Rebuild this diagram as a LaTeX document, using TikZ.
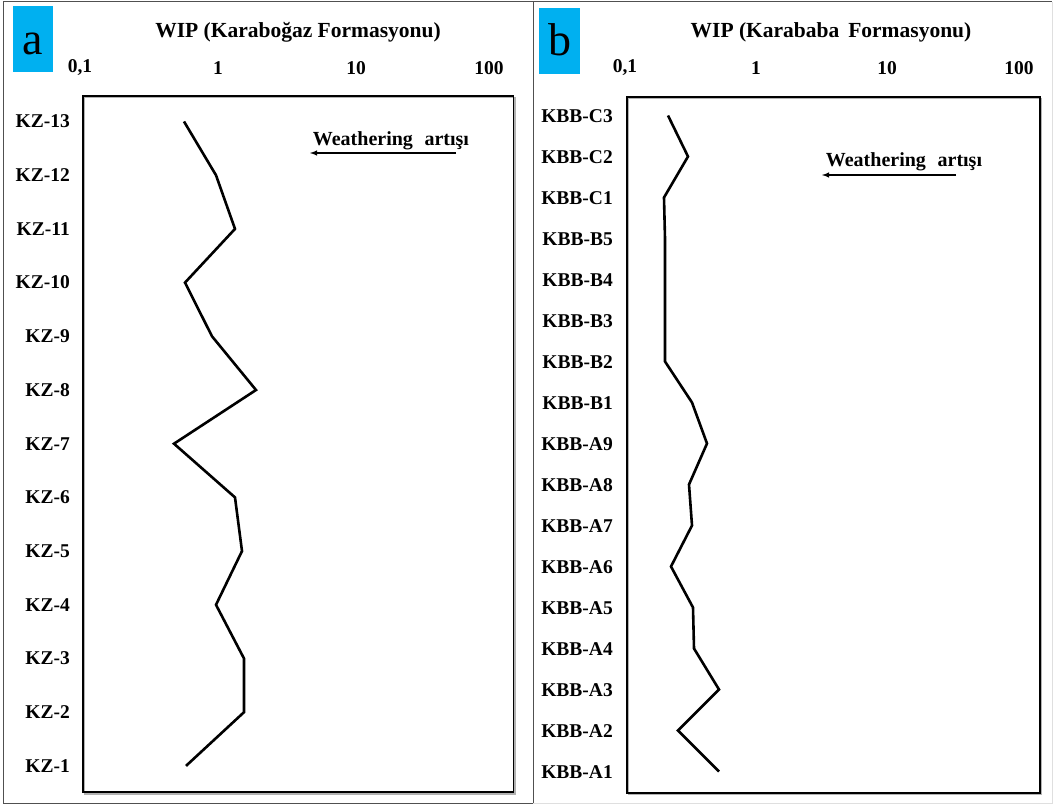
\documentclass[tikz,border=0pt]{standalone}
\usepackage{fontspec}
\setmainfont{Liberation Serif}
\usetikzlibrary{calc,positioning,arrows}
\definecolor{panelblue}{RGB}{0,176,240}
\definecolor{framegray}{RGB}{80,80,80}

\begin{document}
\begin{tikzpicture}[
	%	style def
    x=1pt, y=-1pt,
    data line/.style={line width=2.6pt, line join=miter},
    plot box/.style={draw=black, line width=1.4pt},
    box shadow/.style={draw=gray!60, line width=1.4pt},
    panel frame/.style={draw=framegray, line width=1pt},
    trend arrow/.style={line width=1.4pt, -latex},
    sample/.style={font=\bfseries\fontsize{19.5}{22}\selectfont, anchor=east, inner sep=0pt},
    tick/.style={font=\bfseries\fontsize{19.5}{22}\selectfont, inner sep=0pt},
    note/.style={font=\bfseries\fontsize{20}{22}\selectfont, inner sep=0pt},
    heading/.style={font=\bfseries\fontsize{21.5}{24}\selectfont, inner sep=0pt},
    tag/.style={fill=panelblue, minimum width=40.5pt, minimum height=66pt, inner sep=0pt},
    tag letter/.style={font=\fontsize{46}{46}\selectfont, anchor=base, inner sep=0pt},
    every node/.style={color=black}
    ]
    \useasboundingbox (0,0) rectangle (1055,805);

	% panel frames
    \draw[panel frame] (3,2) rectangle (533,803);
    \draw[draw=gray!25, line width=1pt] (533,803) -- (1052,803) -- (1052,2);
    \draw[panel frame] (533,2) -- (1052,2);

	% panel a : Karaboğaz
    \node[tag] (tagA) at (33,39) {};
    \node[tag letter] (letterA) at (33,55) {a};
    \node[heading] (titleA) at (298,32) {WIP (Karaboğaz Formasyonu)};
    \node[tick] (tA1) at (80,68) {0,1};
    \node[tick] (tA2) at (218,68) {1};
    \node[tick] (tA3) at (356,68) {10};
    \node[tick] (tA4) at (489,68) {100};
    \draw[box shadow] (84.5,97.5) rectangle (515,794);
    \draw[plot box] (83,96) rectangle (513.5,792);
    \foreach \i/\x in {13/184,12/216,11/235,10/185,9/212,8/256,7/174,6/235,5/242,4/216,3/244,2/244,1/186}{
        \node[sample] (kz\i) at (70,{121.5+(13-\i)*53.7}) {KZ-\i};
        \coordinate (pA\i) at (\x,{121.5+(13-\i)*53.7});
    }
    \draw[data line] (pA13) -- (pA12) -- (pA11) -- (pA10) -- (pA9) -- (pA8) -- (pA7)
        -- (pA6) -- (pA5) -- (pA4) -- (pA3) -- (pA2) -- (pA1);
    \coordinate (wA1) at (456,153);
    \coordinate (wA2) at (310,153);
    \draw[trend arrow] (wA1) -- (wA2);
    \node[note] (weatherA) at (391,141) {Weathering\,\, artışı};

	% panel b : Karababa
    \node[tag] (tagB) at (559.5,41) {};
    \node[tag letter] (letterB) at (559.5,56) {b};
    \node[heading] (titleB) at (831,32) {WIP (Karababa\, Formasyonu)};
    \node[tick] (tB1) at (625,68) {0,1};
    \node[tick] (tB2) at (756,68) {1};
    \node[tick] (tB3) at (887,68) {10};
    \node[tick] (tB4) at (1019,68) {100};
    \draw[box shadow] (628.5,98.5) rectangle (1041.5,794.5);
    \draw[plot box] (627,97) rectangle (1040,793);
    \foreach \n/\s/\x in {0/C3/668,1/C2/688,2/C1/664,3/B5/665,4/B4/665,5/B3/665,6/B2/665,7/B1/692,8/A9/707,
        9/A8/689,10/A7/692,11/A6/671,12/A5/693,13/A4/694,14/A3/719,15/A2/678,16/A1/719}{
        \node[sample] (kbb\s) at (613,{116.5+\n*41}) {KBB-\s};
        \coordinate (pB\n) at (\x,{115.5+\n*41});
    }
    \draw[data line] (pB0) -- (pB1) -- (pB2) -- (pB3) -- (pB4) -- (pB5) -- (pB6) -- (pB7) -- (pB8)
        -- (pB9) -- (pB10) -- (pB11) -- (pB12) -- (pB13) -- (pB14) -- (pB15) -- (pB16);
    \coordinate (wB1) at (956,175);
    \coordinate (wB2) at (822,175);
    \draw[trend arrow] (wB1) -- (wB2);
    \node[note] (weatherB) at (904,162) {Weathering\,\, artışı};
\end{tikzpicture}
\end{document}
